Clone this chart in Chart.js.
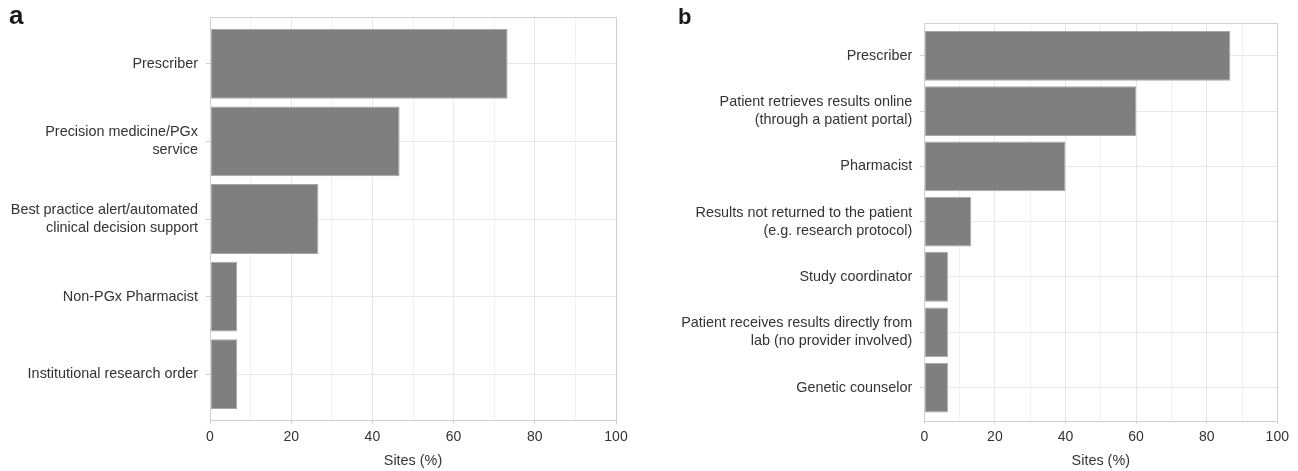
<!DOCTYPE html>
<html>
<head>
<meta charset="utf-8">
<script src="https://cdn.jsdelivr.net/npm/chart.js@4/dist/chart.umd.min.js"></script>
<style>
  html, body { margin: 0; padding: 0; background: #ffffff; }
  #wrap { position: relative; width: 1298px; height: 471px; }
  .panel { position: absolute; top: 0; width: 649px; height: 471px; }
  #pa { left: 0; }
  #pb { left: 649px; }
</style>
</head>
<body>
<div id="wrap">
  <div class="panel" id="pa"><canvas id="chartA" width="649" height="471"></canvas></div>
  <div class="panel" id="pb"><canvas id="chartB" width="649" height="471"></canvas></div>
</div>
<script>
// Panel a: who orders / receives pharmacogenomic results (share of sites)
const categoriesA = [
  ['Prescriber'],
  ['Precision medicine/PGx', 'service'],
  ['Best practice alert/automated', 'clinical decision support'],
  ['Non-PGx Pharmacist'],
  ['Institutional research order']
];
const valuesA = [73.3, 46.7, 26.7, 6.7, 6.7];

// Panel b: how results are returned (share of sites)
const categoriesB = [
  ['Prescriber'],
  ['Patient retrieves results online', '(through a patient portal)'],
  ['Pharmacist'],
  ['Results not returned to the patient', '(e.g. research protocol)'],
  ['Study coordinator'],
  ['Patient receives results directly from', 'lab (no provider involved)'],
  ['Genetic counselor']
];
const valuesB = [86.7, 60.0, 40.0, 13.3, 6.7, 6.7, 6.7];

const xTicks = [0, 20, 40, 60, 80, 100];
const xTitle = 'Sites (%)';

const FONT = '"Liberation Sans", Arial, Helvetica, sans-serif';
const TEXT = '#333333';
const BAR = '#7f7f7f';
const GRID_MAJOR = '#e8e8e8';
const GRID_MINOR = '#f1f1f1';
const FRAME = '#d0d0d0';

// Panel border drawn on top of grid and bars, plus the panel letter
const framePlugin = {
  id: 'frame',
  afterDatasetsDraw(chart, args, opts) {
    const { ctx, chartArea: a } = chart;
    ctx.save();
    ctx.strokeStyle = FRAME;
    ctx.lineWidth = 1;
    ctx.strokeRect(Math.round(a.left) + 0.5, Math.round(a.top) + 0.5,
                   Math.round(a.right - a.left), Math.round(a.bottom - a.top));
    ctx.restore();
  },
  afterDraw(chart, args, opts) {
    const { ctx } = chart;
    ctx.save();
    ctx.fillStyle = '#1a1a1a';
    ctx.font = 'bold ' + opts.size + 'px ' + FONT;
    ctx.textBaseline = 'alphabetic';
    ctx.textAlign = 'left';
    ctx.fillText(opts.letter, opts.x, opts.y);
    ctx.restore();
  }
};

function makeChart(canvasId, cats, vals, geom) {
  const n = cats.length;
  const points = vals.map((v, i) => ({ x: v, y: i }));
  return new Chart(document.getElementById(canvasId), {
    type: 'bar',
    data: {
      datasets: [{
        data: points,
        backgroundColor: BAR,
        borderColor: '#a9a9a9',
        borderWidth: 1,
        borderSkipped: false,
        categoryPercentage: 1.0,
        barPercentage: 0.9
      }]
    },
    options: {
      indexAxis: 'y',
      responsive: false,
      animation: false,
      devicePixelRatio: 1,
      layout: { padding: { left: 0, top: geom.top, right: geom.right, bottom: 0 } },
      plugins: {
        legend: { display: false },
        tooltip: { enabled: false },
        frame: { letter: geom.letter, x: geom.letterX, y: geom.letterY, size: geom.letterSize }
      },
      scales: {
        x: {
          type: 'linear',
          position: 'bottom',
          min: 0,
          max: 100,
          offset: false,
          border: { display: false },
          grid: {
            offset: false,
            color: (c) => (c.tick && c.tick.value % 20 === 0) ? GRID_MAJOR : GRID_MINOR,
            tickColor: (c) => (c.tick && c.tick.value % 20 === 0) ? '#cfcfcf' : 'rgba(0,0,0,0)',
            tickLength: 3,
            lineWidth: 1
          },
          ticks: {
            stepSize: 10,
            autoSkip: false,
            maxRotation: 0,
            padding: 5,
            color: TEXT,
            font: { family: FONT, size: 14 },
            callback: (v) => xTicks.includes(v) ? String(v) : ''
          },
          title: {
            display: true,
            text: xTitle,
            color: TEXT,
            font: { family: FONT, size: 14.4 },
            padding: { top: 0, bottom: 1.5 }
          },
          afterFit: (s) => { s.height = geom.xHeight; }
        },
        y: {
          type: 'linear',
          reverse: true,
          min: -0.6,
          max: n - 0.4,
          offset: false,
          border: { display: false },
          grid: {
            offset: false,
            color: GRID_MAJOR,
            tickColor: '#cfcfcf',
            tickLength: 4,
            lineWidth: 1
          },
          ticks: {
            stepSize: 1,
            includeBounds: false,
            autoSkip: false,
            padding: 8,
            color: TEXT,
            font: { family: FONT, size: 14.4, lineHeight: 1.25 },
            callback: (v) => (Number.isInteger(v) && cats[v]) ? cats[v] : ''
          },
          afterFit: (s) => { s.width = geom.yWidth; }
        }
      }
    },
    plugins: [framePlugin]
  });
}

makeChart('chartA', categoriesA, valuesA, {
  top: 17.3, right: 33, yWidth: 210, xHeight: 50.3,
  letter: 'a', letterX: 9, letterY: 24, letterSize: 26
});

makeChart('chartB', categoriesB, valuesB, {
  top: 22.7, right: 20.7, yWidth: 275.3, xHeight: 50.3,
  letter: 'b', letterX: 29, letterY: 24, letterSize: 22
});
</script>
</body>
</html>
